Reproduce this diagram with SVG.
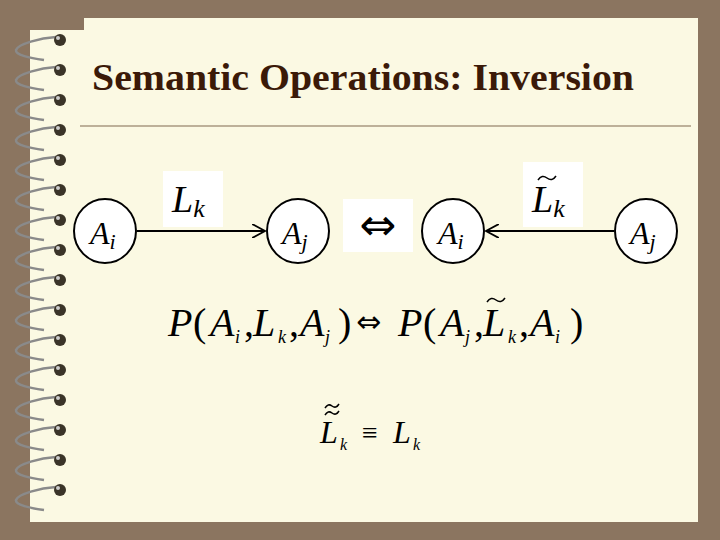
<svg xmlns="http://www.w3.org/2000/svg" width="720" height="540" viewBox="0 0 720 540">
<style>
.m{font-family:"Liberation Serif",serif;font-style:italic;fill:#000}
.r{font-family:"Liberation Serif",serif;fill:#000}
.node{fill:#fff;stroke:#000;stroke-width:2}
.ring{fill:none;stroke:#8a8a8a;stroke-width:2.5}
.bead{fill:#3a3428}
.tl{fill:none;stroke:#000;stroke-width:1.5}
</style>
<defs>
<marker id="ah" viewBox="0 0 12 12" refX="11" refY="6" markerWidth="14" markerHeight="14" markerUnits="userSpaceOnUse" orient="auto">
<path d="M0,0 L11,6 L0,12" fill="none" stroke="#000" stroke-width="1.5"/>
</marker>
<g id="ringg">
<path class="ring" d="M56,-3 C40,-2 18,4 16,10 C15,15 30,18 44,20"/>
<circle class="bead" cx="60" cy="0" r="6"/>
<circle cx="58" cy="-2" r="2" fill="#ccc"/>
</g>
</defs>
<rect width="720" height="540" fill="#8b7560"/>
<path d="M84,18 H698 V522 H30 V30 H84 Z" fill="#fbf9e3"/>
<g id="spiral">
<use href="#ringg" y="40"/><use href="#ringg" y="70"/><use href="#ringg" y="100"/><use href="#ringg" y="130"/>
<use href="#ringg" y="160"/><use href="#ringg" y="190"/><use href="#ringg" y="220"/><use href="#ringg" y="250"/>
<use href="#ringg" y="280"/><use href="#ringg" y="310"/><use href="#ringg" y="340"/><use href="#ringg" y="370"/>
<use href="#ringg" y="400"/><use href="#ringg" y="430"/><use href="#ringg" y="460"/><use href="#ringg" y="490"/>
</g>
<text x="92" y="90" font-family="Liberation Serif,serif" font-weight="bold" font-size="38" fill="#3b1a08" textLength="542" lengthAdjust="spacingAndGlyphs">Semantic Operations: Inversion</text>
<line x1="80" y1="126" x2="691" y2="126" stroke="#a89880" stroke-width="1.5"/>
<g id="connectors">
<line x1="137" y1="231" x2="265" y2="231" stroke="#000" stroke-width="2" marker-end="url(#ah)"/>
<line x1="614" y1="231" x2="486" y2="231" stroke="#000" stroke-width="2" marker-end="url(#ah)"/>
</g>
<g id="lk"><rect x="163" y="171" width="60" height="56" fill="#fff"/>
<text class="m" x="172" y="212" font-size="38">L<tspan font-size="26" dy="5">k</tspan></text></g>
<g id="equiv"><rect x="343" y="199" width="70" height="53" fill="#fff"/>
<text x="378" y="240" font-family="DejaVu Sans,sans-serif" font-size="44" text-anchor="middle">⇔</text></g>
<g id="lkt"><rect x="523" y="162" width="60" height="65" fill="#fff"/>
<text class="m" x="532" y="212" font-size="38">L<tspan font-size="26" dy="5">k</tspan></text>
<path class="tl" d="M538,180 q4,-6 9,-2 t9,-2"/></g>
<g id="ai1"><ellipse class="node" cx="105" cy="231" rx="31" ry="32"/><text class="m" x="90" y="244" font-size="32">A<tspan font-size="22" dy="5">i</tspan></text></g>
<g id="aj1"><ellipse class="node" cx="298" cy="231" rx="31" ry="32"/><text class="m" x="282" y="244" font-size="32">A<tspan font-size="22" dy="5">j</tspan></text></g>
<g id="ai2"><ellipse class="node" cx="453" cy="231" rx="31" ry="32"/><text class="m" x="438" y="244" font-size="32">A<tspan font-size="22" dy="5">i</tspan></text></g>
<g id="aj2"><ellipse class="node" cx="646" cy="231" rx="31" ry="32"/><text class="m" x="630" y="244" font-size="32">A<tspan font-size="22" dy="5">j</tspan></text></g>
<g id="eq1" font-size="40">
<text class="m" x="168" y="336">P</text><text class="r" x="193" y="336">(</text>
<text class="m" x="210" y="336">A</text><text class="m" x="235" y="343" font-size="18">i</text><text class="r" x="244" y="336">,</text>
<text class="m" x="253" y="336">L</text><text class="m" x="278" y="343" font-size="18">k</text><text class="r" x="289" y="336">,</text>
<text class="m" x="300" y="336">A</text><text class="m" x="325" y="343" font-size="18">j</text><text class="r" x="338" y="336">)</text>
<text x="356" y="332" font-family="DejaVu Sans,sans-serif" font-size="30">⇔</text>
<text class="m" x="398" y="336">P</text><text class="r" x="423" y="336">(</text>
<text class="m" x="440" y="336">A</text><text class="m" x="465" y="343" font-size="18">j</text><text class="r" x="474" y="336">,</text>
<text class="m" x="483" y="336">L</text><text class="m" x="508" y="343" font-size="18">k</text><text class="r" x="519" y="336">,</text>
<text class="m" x="530" y="336">A</text><text class="m" x="555" y="343" font-size="18">i</text><text class="r" x="570" y="336">)</text>
<path class="tl" d="M487,302 q4,-6 9,-2 t9,-2"/>
</g>
<g id="eq2">
<text class="m" x="320" y="443" font-size="32">L</text><text class="m" x="340" y="450" font-size="16">k</text>
<path class="tl" d="M325,415 q3,-5 7,-2 t7,-2"/>
<path class="tl" d="M325,408 q3,-5 7,-2 t7,-2"/>
<text class="r" x="362" y="442" font-size="28">≡</text>
<text class="m" x="393" y="443" font-size="32">L</text><text class="m" x="413" y="450" font-size="16">k</text>
</g>
</svg>
